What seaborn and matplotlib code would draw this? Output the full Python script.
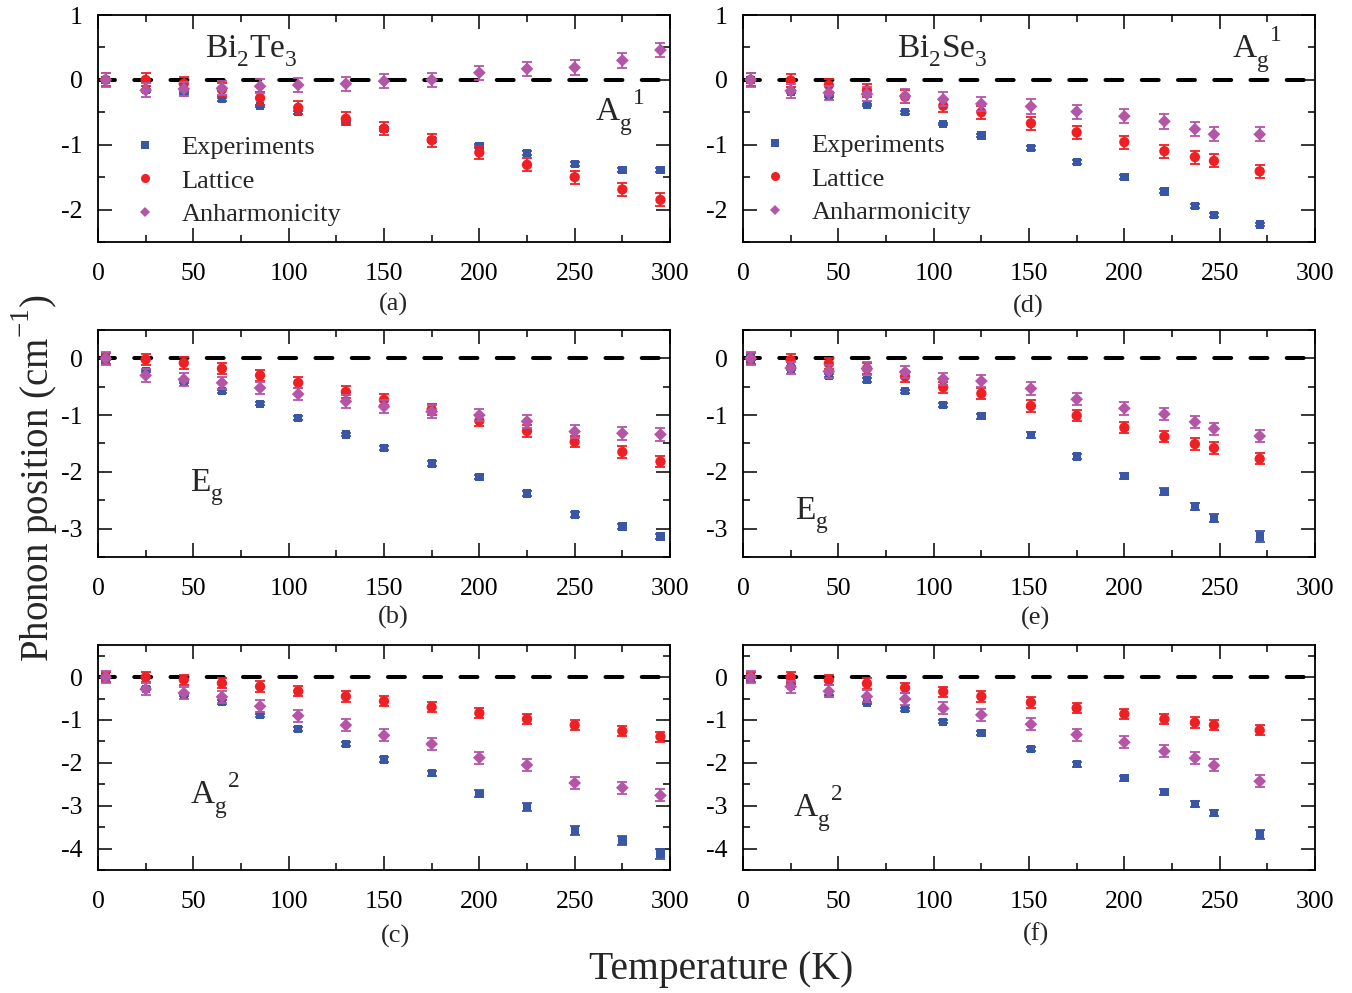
import numpy as np
import pandas as pd
import matplotlib
matplotlib.use('Agg')
import matplotlib.pyplot as plt
from matplotlib.lines import Line2D
from matplotlib.ticker import MultipleLocator
import seaborn as sns

# ---------------- data ----------------
T_te = [4, 25, 45, 65, 85, 105, 130, 150, 175, 200, 225, 250, 275, 295]
T_se = [4, 25, 45, 65, 85, 105, 125, 151, 175, 200, 221, 237, 247, 271]

series_names = ["Experiments", "Lattice", "Anharmonicity"]

# (a) Bi2Te3 A_g^1
te_ag1_exp = [0, -0.16, -0.20, -0.30, -0.40, -0.50, -0.65, -0.76, -0.93, -1.02, -1.13, -1.30, -1.39, -1.39]
te_ag1_lat = [0, 0.00, -0.06, -0.15, -0.28, -0.43, -0.60, -0.75, -0.93, -1.12, -1.31, -1.50, -1.69, -1.85]
te_ag1_anh = [0, -0.16, -0.14, -0.13, -0.10, -0.08, -0.06, -0.02, 0.00, 0.11, 0.17, 0.19, 0.30, 0.46]
te_ag1_exp_err = [0.02, 0.02, 0.02, 0.02, 0.02, 0.02, 0.02, 0.03, 0.03, 0.03, 0.03, 0.03, 0.03, 0.03]
# (b) Bi2Te3 E_g
te_eg_exp = [0, -0.22, -0.42, -0.58, -0.80, -1.05, -1.34, -1.58, -1.85, -2.09, -2.38, -2.75, -2.96, -3.14]
te_eg_lat = [0, -0.02, -0.08, -0.18, -0.30, -0.43, -0.59, -0.73, -0.90, -1.10, -1.28, -1.47, -1.65, -1.82]
te_eg_anh = [0, -0.30, -0.37, -0.43, -0.52, -0.63, -0.76, -0.85, -0.94, -1.00, -1.11, -1.29, -1.32, -1.34]
te_eg_exp_err = [0.02, 0.02, 0.02, 0.03, 0.03, 0.03, 0.03, 0.03, 0.04, 0.04, 0.04, 0.05, 0.05, 0.05]
# (c) Bi2Te3 A_g^2
te_ag2_exp = [0, -0.27, -0.42, -0.58, -0.89, -1.21, -1.56, -1.92, -2.24, -2.72, -3.03, -3.58, -3.81, -4.13]
te_ag2_lat = [0, 0.00, -0.06, -0.14, -0.22, -0.33, -0.45, -0.56, -0.70, -0.84, -0.98, -1.12, -1.26, -1.39]
te_ag2_anh = [0, -0.28, -0.37, -0.46, -0.68, -0.90, -1.12, -1.36, -1.56, -1.88, -2.05, -2.47, -2.58, -2.76]
te_ag2_exp_err = [0.02, 0.03, 0.03, 0.04, 0.04, 0.05, 0.05, 0.06, 0.06, 0.08, 0.10, 0.10, 0.10, 0.11]
# (d) Bi2Se3 A_g^1
se_ag1_exp = [0, -0.18, -0.25, -0.39, -0.50, -0.68, -0.86, -1.05, -1.27, -1.50, -1.72, -1.95, -2.08, -2.23]
se_ag1_lat = [0, -0.01, -0.08, -0.16, -0.26, -0.40, -0.50, -0.67, -0.81, -0.96, -1.10, -1.19, -1.25, -1.41]
se_ag1_anh = [0, -0.17, -0.20, -0.22, -0.25, -0.30, -0.37, -0.41, -0.49, -0.56, -0.64, -0.76, -0.84, -0.84]
se_ag1_exp_err = [0.02, 0.02, 0.02, 0.02, 0.02, 0.02, 0.02, 0.03, 0.03, 0.03, 0.03, 0.03, 0.03, 0.03]
# (e) Bi2Se3 E_g
se_eg_exp = [0, -0.18, -0.30, -0.38, -0.58, -0.82, -1.02, -1.35, -1.73, -2.07, -2.35, -2.61, -2.82, -3.14]
se_eg_lat = [0, -0.03, -0.09, -0.18, -0.32, -0.51, -0.62, -0.84, -1.01, -1.22, -1.38, -1.51, -1.58, -1.77]
se_eg_anh = [0, -0.17, -0.23, -0.18, -0.24, -0.36, -0.40, -0.53, -0.72, -0.88, -0.98, -1.12, -1.24, -1.37]
se_eg_exp_err = [0.02, 0.02, 0.03, 0.03, 0.03, 0.04, 0.04, 0.05, 0.05, 0.05, 0.06, 0.06, 0.07, 0.09]
# (f) Bi2Se3 A_g^2
se_ag2_exp = [0, -0.20, -0.38, -0.60, -0.75, -1.04, -1.31, -1.67, -2.03, -2.36, -2.68, -2.96, -3.17, -3.67]
se_ag2_lat = [0, 0.00, -0.07, -0.15, -0.25, -0.34, -0.45, -0.59, -0.72, -0.86, -0.98, -1.06, -1.12, -1.24]
se_ag2_anh = [0, -0.22, -0.33, -0.45, -0.51, -0.73, -0.88, -1.10, -1.34, -1.52, -1.73, -1.89, -2.06, -2.43]
se_ag2_exp_err = [0.02, 0.03, 0.03, 0.03, 0.04, 0.04, 0.05, 0.05, 0.06, 0.06, 0.07, 0.07, 0.08, 0.10]

lat_err_small = 0.10
anh_err_small = 0.11
lat_err_big = 0.12
anh_err_big = 0.14

x_ticks = [0, 50, 100, 150, 200, 250, 300]
yticks_ag1 = [1, 0, -1, -2]
yticks_eg = [0, -1, -2, -3]
yticks_ag2 = [0, -1, -2, -3, -4]

# ---------------- style ----------------
sns.set_theme(style='ticks')
plt.rcParams['font.family'] = ['Liberation Serif', 'DejaVu Serif']
plt.rcParams['mathtext.fontset'] = 'custom'
plt.rcParams['mathtext.rm'] = 'Liberation Serif'
plt.rcParams['mathtext.it'] = 'Liberation Serif:italic'
plt.rcParams['axes.unicode_minus'] = False

# deeper subscripts / higher superscripts, as in the original figure
try:
    import matplotlib._mathtext as _mt
    _mt.FontConstantsBase.sub1 = 0.6
    _mt.FontConstantsBase.sup1 = 1.0
except Exception:
    pass

c_exp = '#3a56a6'
c_lat = '#ee2024'
c_anh = '#b455a8'

W, H = 1352, 993
fig = plt.figure(figsize=(W / 100, H / 100), dpi=100)


def add_ax(x0, x1, y0, y1):
    return fig.add_axes([x0 / W, 1 - y1 / H, (x1 - x0) / W, (y1 - y0) / H])


panels = [
    # left, right, top, bottom, T, exp, lat, anh, exp_err, lat_err, anh_err, ylim, yticks
    (98, 670, 15, 242, T_te, te_ag1_exp, te_ag1_lat, te_ag1_anh, te_ag1_exp_err, lat_err_small, anh_err_small, (-2.5, 1.0), yticks_ag1),
    (98, 670, 330, 557, T_te, te_eg_exp, te_eg_lat, te_eg_anh, te_eg_exp_err, lat_err_small, anh_err_small, (-3.5, 0.5), yticks_eg),
    (98, 670, 645, 870, T_te, te_ag2_exp, te_ag2_lat, te_ag2_anh, te_ag2_exp_err, lat_err_big, anh_err_big, (-4.5, 0.75), yticks_ag2),
    (743, 1315, 15, 242, T_se, se_ag1_exp, se_ag1_lat, se_ag1_anh, se_ag1_exp_err, lat_err_small, anh_err_small, (-2.5, 1.0), yticks_ag1),
    (743, 1315, 330, 557, T_se, se_eg_exp, se_eg_lat, se_eg_anh, se_eg_exp_err, lat_err_small, anh_err_small, (-3.5, 0.5), yticks_eg),
    (743, 1315, 645, 870, T_se, se_ag2_exp, se_ag2_lat, se_ag2_anh, se_ag2_exp_err, lat_err_big, anh_err_big, (-4.5, 0.75), yticks_ag2),
]

axes = []
for (x0, x1, y0, y1, T, ex, la, an, ex_err, la_err, an_err, ylim, yt) in panels:
    ax = add_ax(x0, x1, y0, y1)
    axes.append(ax)
    ax.axhline(0, color='black', lw=2.9, ls=(0, (4.2, 4.8)), dash_capstyle='round', zorder=1)

    styles = [
        (ex, ex_err, c_exp, 's', 36, 2),
        (la, [la_err] * len(T), c_lat, 'o', 55, 3),
        (an, [an_err] * len(T), c_anh, 'D', 42, 4),
    ]
    for vals, err, col, mk, size, zo in styles:
        ax.errorbar(T, vals, yerr=err, fmt='none', ecolor=col, elinewidth=1.3,
                    capsize=3.5, capthick=1.3, zorder=zo)
        df = pd.DataFrame({'T': T, 'v': vals})
        sns.scatterplot(data=df, x='T', y='v', ax=ax, marker=mk, color=col, s=size,
                        edgecolor='none', linewidth=0, zorder=zo + 0.5, legend=False)

    ax.set_xlim(0, 300)
    ax.set_ylim(*ylim)
    ax.set_xticks(x_ticks)
    ax.set_xticklabels([str(v) for v in x_ticks])
    ax.set_yticks(yt)
    ax.set_yticklabels([str(v) for v in yt])
    ax.xaxis.set_minor_locator(MultipleLocator(25))
    ax.yaxis.set_minor_locator(MultipleLocator(0.5))
    ax.set_xlabel('')
    ax.set_ylabel('')
    ax.tick_params(which='both', direction='in', top=True, right=True, color='black',
                   width=1.1, labelcolor='black')
    ax.tick_params(which='major', length=10, labelsize=18.5)
    ax.tick_params(axis='x', which='major', pad=15)
    ax.tick_params(axis='y', which='major', pad=11)
    ax.tick_params(which='minor', length=5)
    for sp in ax.spines.values():
        sp.set_visible(True)
        sp.set_color('black')
        sp.set_linewidth(1.3)

# legends
handles = [
    Line2D([], [], marker='s', color=c_exp, linestyle='none', markersize=5.5, markeredgewidth=0),
    Line2D([], [], marker='o', color=c_lat, linestyle='none', markersize=6.5, markeredgewidth=0),
    Line2D([], [], marker='D', color=c_anh, linestyle='none', markersize=5.5, markeredgewidth=0),
]
for ax, anchor in [(axes[0], (0.059, 0.269)), (axes[3], (0.033, 0.278))]:
    ax.legend(handles, series_names, loc='center left', bbox_to_anchor=anchor,
              frameon=False, fontsize=19, handlelength=1.0, handletextpad=0.88,
              labelspacing=0.37, borderpad=0, borderaxespad=0)

# panel annotations
fs_ann = 24
axes[0].text(0.187, 0.815, r'Bi$_\mathregular{2}$Te$_\mathregular{3}$', transform=axes[0].transAxes,
             fontsize=fs_ann, ha='left', va='baseline')
axes[3].text(0.269, 0.815, r'Bi$_\mathregular{2}$Se$_\mathregular{3}$', transform=axes[3].transAxes,
             fontsize=fs_ann, ha='left', va='baseline')
axes[0].text(0.869, 0.533, r'A$_\mathregular{g}$$^\mathregular{1}$', transform=axes[0].transAxes,
             fontsize=fs_ann, ha='left', va='baseline')
axes[3].text(0.855, 0.810, r'A$_\mathregular{g}$$^\mathregular{1}$', transform=axes[3].transAxes,
             fontsize=fs_ann, ha='left', va='baseline')
axes[1].text(0.161, 0.291, r'E$_\mathregular{g}$', transform=axes[1].transAxes,
             fontsize=fs_ann, ha='left', va='baseline')
axes[4].text(0.091, 0.167, r'E$_\mathregular{g}$', transform=axes[4].transAxes,
             fontsize=fs_ann, ha='left', va='baseline')
axes[2].text(0.161, 0.293, r'A$_\mathregular{g}$$^\mathregular{2}$', transform=axes[2].transAxes,
             fontsize=fs_ann, ha='left', va='baseline')
axes[5].text(0.087, 0.236, r'A$_\mathregular{g}$$^\mathregular{2}$', transform=axes[5].transAxes,
             fontsize=fs_ann, ha='left', va='baseline')

# sub-figure letters
for s, x, y in [('(a)', 393, 304), ('(b)', 393, 617), ('(c)', 395, 936),
                ('(d)', 1028, 306), ('(e)', 1035, 618), ('(f)', 1036, 934)]:
    fig.text(x / W, 1 - y / H, s, ha='center', va='center', fontsize=19)

fig.text(35 / W, 1 - 478 / H, r'Phonon position (cm$^\mathregular{-1}$)', rotation=90,
         ha='center', va='center', fontsize=28)
fig.text(721 / W, 1 - 969 / H, 'Temperature (K)', ha='center', va='center', fontsize=28.5)

fig.savefig('out.png', dpi=100)
